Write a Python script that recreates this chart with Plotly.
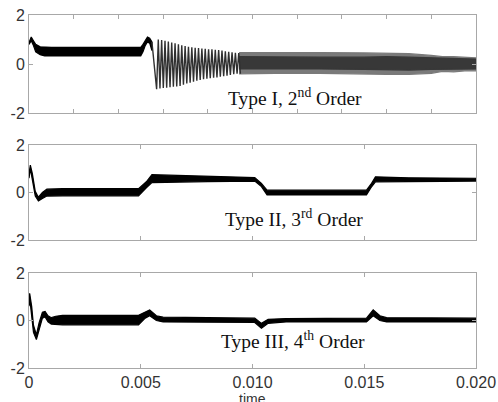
import plotly.graph_objects as go

# ---------------- data ----------------
# Panel 1: Type I, 2nd order  -- start-up band (t, low edge, high edge)
p1_t  = [0, 0.0001, 0.0002, 0.0003, 0.0005, 0.0007, 0.001, 0.003, 0.005, 0.0051, 0.0052, 0.0053, 0.0054, 0.0055]
p1_lo = [0.80, 0.95, 0.75, 0.50, 0.38, 0.33, 0.33, 0.33, 0.33, 0.50, 0.75, 0.90, 0.85, 0.55]
p1_hi = [0.88, 1.10, 0.95, 0.80, 0.70, 0.68, 0.68, 0.68, 0.68, 0.80, 0.95, 1.10, 1.05, 0.90]

# Panel 1: distinct oscillation peaks / troughs after the step at 0.005 s
p1_osc_t = [0.0055, 0.00571, 0.005785, 0.00586, 0.005935, 0.00601, 0.006085, 0.00616, 0.006235,
            0.00631, 0.006385, 0.00646, 0.006535, 0.00661, 0.006685, 0.00676, 0.006835,
            0.00691, 0.006985, 0.00706, 0.007135, 0.00721, 0.007285, 0.00736, 0.007435,
            0.00751, 0.007585, 0.00766, 0.007735, 0.00781, 0.007885, 0.00796, 0.008035,
            0.00811, 0.008185, 0.00826, 0.008335, 0.00841, 0.008485, 0.00856, 0.008635,
            0.00871, 0.008785, 0.00886, 0.008935, 0.00901, 0.009085, 0.00916, 0.009235,
            0.00931, 0.009385, 0.00946]
p1_osc_v = [0.90, -1.03, 1.00, -1.00, 0.98, -0.98, 0.95, -0.97, 0.92,
            -0.95, 0.88, -0.93, 0.85, -0.92, 0.80, -0.90, 0.76,
            -0.85, 0.73, -0.80, 0.70, -0.76, 0.68, -0.72, 0.66,
            -0.68, 0.65, -0.65, 0.63, -0.62, 0.62, -0.60, 0.60,
            -0.58, 0.60, -0.56, 0.58, -0.55, 0.57, -0.52, 0.55,
            -0.50, 0.52, -0.48, 0.50, -0.45, 0.48, -0.42, 0.46,
            -0.40, 0.45, -0.40]

# Panel 1: dense oscillation band afterwards (outer envelope and dark core)
p1_band_t   = [0.0094, 0.011, 0.013, 0.015, 0.016, 0.017, 0.018, 0.0185, 0.019, 0.0195, 0.020]
p1_out_hi   = [0.47, 0.48, 0.47, 0.45, 0.45, 0.42, 0.35, 0.30, 0.30, 0.26, 0.25]
p1_out_lo   = [-0.40, -0.38, -0.38, -0.40, -0.42, -0.42, -0.38, -0.30, -0.32, -0.28, -0.28]
p1_core_hi  = [0.30, 0.28, 0.28, 0.28, 0.30, 0.28, 0.25, 0.22, 0.22, 0.20, 0.20]
p1_core_lo  = [-0.20, -0.20, -0.20, -0.22, -0.25, -0.25, -0.22, -0.20, -0.22, -0.20, -0.20]

# Panel 2: Type II, 3rd order
p2_t  = [0, 0.00006, 0.00015, 0.00028, 0.00042, 0.0006, 0.0008, 0.0015, 0.0049, 0.00525, 0.0055,
         0.0065, 0.008, 0.0101, 0.0104, 0.01065, 0.012, 0.0151, 0.0153, 0.0155, 0.017, 0.020]
p2_lo = [0.60, 1.00, 0.60, -0.15, -0.35, -0.25, -0.15, -0.14, -0.14, 0.20, 0.42,
         0.42, 0.46, 0.48, 0.25, -0.10, -0.10, -0.10, 0.20, 0.45, 0.48, 0.48]
p2_hi = [0.80, 1.15, 0.80, 0.05, -0.20, 0.00, 0.14, 0.16, 0.16, 0.45, 0.75,
         0.72, 0.68, 0.63, 0.38, 0.10, 0.10, 0.10, 0.35, 0.66, 0.62, 0.60]

# Panel 3: Type III, 4th order
p3_t  = [0, 0.00003, 0.00012, 0.0002, 0.00033, 0.00045, 0.0006, 0.00072, 0.00085, 0.001, 0.0012,
         0.0015, 0.0049, 0.0052, 0.0054, 0.0057, 0.006, 0.008, 0.0101, 0.0104, 0.0107, 0.0115,
         0.0151, 0.0154, 0.0157, 0.016, 0.020]
p3_lo = [0.60, 0.95, 0.30, -0.50, -0.80, -0.40, 0.10, 0.15, -0.05, -0.15, -0.15,
         -0.18, -0.18, 0.10, 0.20, 0.00, -0.06, -0.06, -0.08, -0.32, -0.12, -0.06,
         -0.06, 0.20, 0.00, -0.06, -0.06]
p3_hi = [0.90, 1.15, 0.60, -0.20, -0.60, -0.10, 0.35, 0.38, 0.20, 0.12, 0.18,
         0.22, 0.22, 0.35, 0.45, 0.20, 0.14, 0.12, 0.10, -0.12, 0.05, 0.08,
         0.10, 0.45, 0.20, 0.12, 0.10]

panel_labels = ["Type I, 2<sup>nd</sup> Order", "Type II, 3<sup>rd</sup> Order", "Type III, 4<sup>th</sup> Order"]
label_pos_t = [0.01189, 0.01185, 0.01180]
label_pos_v = [-1.35, -1.08, -0.81]

x_tickvals = [0, 0.005, 0.010, 0.015, 0.020]
x_ticktext = ["0", "0.005", "0.010", "0.015", "0.020"]
x_minor_ticks = [0.002 * i for i in range(1, 10)]
y_tickvals = [-2, 0, 2]
y_ticktext = ["-2", "0", "2"]

# ---------------- figure ----------------
fig = go.Figure()


def band(t, lo, hi, xa, ya, color):
    xs = list(t) + list(t)[::-1]
    ys = list(hi) + list(lo)[::-1]
    fig.add_trace(go.Scatter(x=xs, y=ys, xaxis=xa, yaxis=ya, mode="lines", fill="toself",
                             fillcolor=color, line=dict(color=color, width=1.2),
                             hoverinfo="skip", showlegend=False))


# panel 1
band(p1_t, p1_lo, p1_hi, "x", "y", "#000000")
band(p1_band_t, p1_out_lo, p1_out_hi, "x", "y", "#7a7a7a")
band(p1_band_t, p1_core_lo, p1_core_hi, "x", "y", "#383838")
fig.add_trace(go.Scatter(x=p1_osc_t, y=p1_osc_v, xaxis="x", yaxis="y", mode="lines",
                         line=dict(color="#303030", width=1.4), hoverinfo="skip", showlegend=False))
# panel 2
band(p2_t, p2_lo, p2_hi, "x2", "y2", "#000000")
# panel 3
band(p3_t, p3_lo, p3_hi, "x3", "y3", "#000000")

frame = dict(showline=True, linecolor="#a8a8a8", linewidth=1, mirror="ticks",
             ticks="inside", ticklen=4, tickcolor="#a8a8a8", showgrid=False, zeroline=False,
             automargin=False, ticklabeloverflow="allow")
tickfont = dict(family="Liberation Sans, Arial, sans-serif", size=16, color="#333333")

doms = [[0.7224, 1.0], [0.3626, 0.6317], [0.0, 0.269]]
fig.update_layout(
    width=498, height=402,
    margin=dict(l=29, r=22, t=15, b=34),
    paper_bgcolor="white", plot_bgcolor="white",
    xaxis=dict(domain=[0, 1], anchor="y", range=[0, 0.02], tickvals=x_minor_ticks,
               showticklabels=False, **frame),
    yaxis=dict(domain=doms[0], anchor="x", range=[-2, 2], tickvals=y_tickvals, ticktext=y_ticktext,
               tickfont=tickfont, **frame),
    xaxis2=dict(domain=[0, 1], anchor="y2", range=[0, 0.02], tickvals=x_tickvals,
                showticklabels=False, **frame),
    yaxis2=dict(domain=doms[1], anchor="x2", range=[-2, 2], tickvals=y_tickvals, ticktext=y_ticktext,
                tickfont=tickfont, **frame),
    xaxis3=dict(domain=[0, 1], anchor="y3", range=[0, 0.02], tickvals=x_tickvals, ticktext=x_ticktext,
                tickfont=tickfont, **frame),
    yaxis3=dict(domain=doms[2], anchor="x3", range=[-2, 2], tickvals=y_tickvals, ticktext=y_ticktext,
                tickfont=tickfont, **frame),
)

for i, (txt, tx, ty) in enumerate(zip(panel_labels, label_pos_t, label_pos_v)):
    suffix = "" if i == 0 else str(i + 1)
    fig.add_annotation(x=tx, y=ty, xref="x" + suffix, yref="y" + suffix, text=txt, showarrow=False,
                       font=dict(family="Liberation Serif, Times New Roman, serif", size=19.5, color="#111111"),
                       xanchor="center", yanchor="middle")

fig.add_annotation(x=0.5, y=-0.088, xref="paper", yref="paper", text="time", showarrow=False,
                   font=dict(family="Liberation Sans, Arial, sans-serif", size=14, color="#333333"),
                   xanchor="center", yanchor="middle")

# remove the browser's default 8 px page margin so the figure fills the window exactly
fig.write_html("out.html", config={"displayModeBar": False},
               post_script="document.body.style.margin='0';document.body.style.overflow='hidden';")
